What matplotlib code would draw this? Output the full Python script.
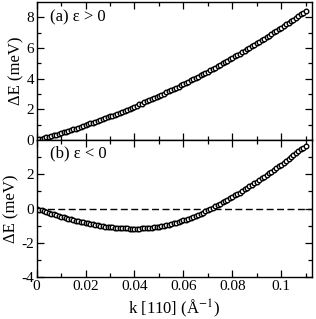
import numpy as np
import matplotlib
matplotlib.use("Agg")
import matplotlib.pyplot as plt

plt.rcParams['font.family'] = ['Liberation Serif', 'DejaVu Serif']
plt.rcParams['mathtext.fontset'] = 'stix'
plt.rcParams['axes.unicode_minus'] = False

# k along [110] (1/Angstrom)
k = [0.000, 0.001, 0.002, 0.003, 0.004, 0.005, 0.006, 0.007, 0.008, 0.009,
     0.010, 0.011, 0.012, 0.013, 0.014, 0.015, 0.016, 0.017, 0.018, 0.019,
     0.020, 0.021, 0.022, 0.023, 0.024, 0.025, 0.026, 0.027, 0.028, 0.029,
     0.030, 0.031, 0.032, 0.033, 0.034, 0.035, 0.036, 0.037, 0.038, 0.039,
     0.040, 0.041, 0.042, 0.043, 0.044, 0.045, 0.046, 0.047, 0.048, 0.049,
     0.050, 0.051, 0.052, 0.053, 0.054, 0.055, 0.056, 0.057, 0.058, 0.059,
     0.060, 0.061, 0.062, 0.063, 0.064, 0.065, 0.066, 0.067, 0.068, 0.069,
     0.070, 0.071, 0.072, 0.073, 0.074, 0.075, 0.076, 0.077, 0.078, 0.079,
     0.080, 0.081, 0.082, 0.083, 0.084, 0.085, 0.086, 0.087, 0.088, 0.089,
     0.090, 0.091, 0.092, 0.093, 0.094, 0.095, 0.096, 0.097, 0.098, 0.099,
     0.100, 0.101, 0.102, 0.103, 0.104, 0.105, 0.106, 0.107, 0.108, 0.109,
     0.110]

# (a) eps > 0
dE_pos = [0.00, 0.04, 0.09, 0.13, 0.17, 0.22, 0.26, 0.31, 0.36, 0.40,
          0.45, 0.50, 0.55, 0.60, 0.65, 0.70, 0.75, 0.80, 0.86, 0.91,
          0.97, 1.02, 1.08, 1.13, 1.19, 1.25, 1.30, 1.36, 1.42, 1.48,
          1.54, 1.60, 1.66, 1.73, 1.79, 1.85, 1.92, 1.98, 2.05, 2.11,
          2.18, 2.25, 2.32, 2.38, 2.45, 2.52, 2.59, 2.67, 2.74, 2.81,
          2.88, 2.96, 3.03, 3.11, 3.18, 3.26, 3.33, 3.41, 3.49, 3.57,
          3.65, 3.73, 3.81, 3.89, 3.97, 4.05, 4.14, 4.22, 4.30, 4.39,
          4.47, 4.56, 4.65, 4.73, 4.82, 4.91, 5.00, 5.09, 5.18, 5.27,
          5.36, 5.46, 5.55, 5.64, 5.74, 5.83, 5.93, 6.02, 6.12, 6.22,
          6.32, 6.41, 6.51, 6.61, 6.71, 6.81, 6.92, 7.02, 7.12, 7.23,
          7.33, 7.43, 7.54, 7.65, 7.75, 7.86, 7.97, 8.08, 8.19, 8.30,
          8.41]

# (b) eps < 0
dE_neg = [0.00, -0.05, -0.10, -0.15, -0.19, -0.24, -0.29, -0.33, -0.38, -0.42,
          -0.46, -0.50, -0.54, -0.58, -0.62, -0.66, -0.70, -0.73, -0.77, -0.80,
          -0.83, -0.86, -0.89, -0.92, -0.94, -0.97, -0.99, -1.01, -1.04, -1.05,
          -1.07, -1.09, -1.10, -1.12, -1.13, -1.14, -1.15, -1.15, -1.16, -1.16,
          -1.16, -1.16, -1.16, -1.15, -1.14, -1.13, -1.12, -1.10, -1.08, -1.06,
          -1.04, -1.02, -0.99, -0.96, -0.93, -0.89, -0.86, -0.82, -0.78, -0.73,
          -0.69, -0.64, -0.59, -0.53, -0.48, -0.42, -0.36, -0.30, -0.23, -0.16,
          -0.09, -0.02, 0.05, 0.13, 0.20, 0.28, 0.36, 0.44, 0.52, 0.60,
          0.69, 0.77, 0.85, 0.94, 1.03, 1.12, 1.21, 1.30, 1.39, 1.48,
          1.57, 1.67, 1.77, 1.86, 1.96, 2.06, 2.16, 2.26, 2.36, 2.47,
          2.57, 2.68, 2.79, 2.89, 3.00, 3.11, 3.22, 3.34, 3.45, 3.56,
          3.68]

xticks = [0, 0.02, 0.04, 0.06, 0.08, 0.1]
xticklabels = ['0', '0.02', '0.04', '0.06', '0.08', '0.1']

fig = plt.figure(figsize=(3.16, 3.19), dpi=100)
ax1 = fig.add_axes([0.116, 0.561, 0.870, 0.4326])
ax2 = fig.add_axes([0.116, 0.1307, 0.870, 0.4304])

mk = dict(marker='o', ls='none', ms=3.3, mfc='white', mec='black', mew=1.0)
ax1.plot(k, dE_pos, **mk)
ax2.axhline(0, color='black', lw=1.0, ls=(0, (5, 2.5)))
ax2.plot(k, dE_neg, **mk)

for ax in (ax1, ax2):
    ax.set_xlim(0, 0.1124)
    ax.set_xticks(xticks)
    ax.set_xticks(np.arange(0.01, 0.112, 0.02), minor=True)
    ax.tick_params(which='both', direction='in', top=True, right=True,
                   labelsize=11, pad=2)
    ax.tick_params(which='major', length=5, width=0.9)
    ax.tick_params(which='minor', length=2.8, width=0.9)
    for s in ax.spines.values():
        s.set_linewidth(1.0)
    ax.set_ylabel('ΔE (meV)', fontsize=12, labelpad=1)

ax1.set_ylim(0, 9)
ax1.set_yticks([0, 2, 4, 6, 8])
ax1.set_yticks([1, 3, 5, 7], minor=True)
ax1.set_xticklabels([])
ax1.text(0.048, 0.89, '(a) ε > 0', transform=ax1.transAxes, fontsize=12,
         va='center', ha='left')

ax2.set_ylim(-4, 4)
ax2.set_yticks([-4, -2, 0, 2])
ax2.set_yticks([-3, -1, 1, 3], minor=True)
ax2.set_xticklabels(xticklabels)
ax2.text(0.048, 0.905, '(b) ε < 0', transform=ax2.transAxes, fontsize=12,
         va='center', ha='left')
ax2.set_xlabel('k [110] (Å$^{-1}$)', fontsize=12, labelpad=3)

fig.savefig('out.png', dpi=100)
